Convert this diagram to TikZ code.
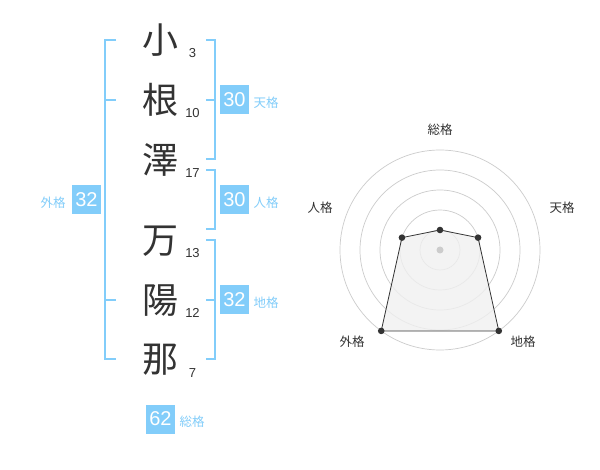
\documentclass[tikz,border=0pt]{standalone}
\usepackage{fontspec}
\setmainfont{Liberation Sans}
\newfontfamily\jpfont{Noto Sans CJK JP}
\usepackage{tikz}

\definecolor{kakublue}{RGB}{130,205,250}
\definecolor{inkgray}{RGB}{51,51,51}
\definecolor{ringgray}{RGB}{204,204,204}
\definecolor{areagray}{RGB}{240,240,240}

\tikzset{
  kanji/.style={font=\jpfont\fontsize{36}{36}\selectfont, text=inkgray, inner sep=0pt},
  strokes/.style={font=\fontsize{13}{13}\selectfont, text=inkgray, inner sep=0pt},
  kakubox/.style={fill=kakublue, text=white, minimum width=29pt, minimum height=29pt,
    inner sep=0pt, font=\fontsize{20}{20}\selectfont},
  kakulabel/.style={font=\jpfont\fontsize{12.5}{12.5}\selectfont, text=kakublue, inner sep=0pt},
  bracket/.style={draw=kakublue, line width=2pt},
  ring/.style={draw=ringgray, line width=0.7pt},
  axislabel/.style={font=\jpfont\fontsize{12.5}{12.5}\selectfont, text=inkgray, inner sep=0pt}
}

\begin{document}
\begin{tikzpicture}[x=1pt, y=-1pt]
        \useasboundingbox[fill=white] (0, 0) rectangle (600, 470);

        % name
        \draw (160, 40) node[kanji] (k1) {小};
        \draw (160, 100) node[kanji] (k2) {根};
        \draw (160, 160) node[kanji] (k3) {澤};
        \draw (160, 241) node[kanji] (k4) {万};
        \draw (160, 301) node[kanji] (k5) {陽};
        \draw (160, 360) node[kanji] (k6) {那};
        \draw (192.5, 53) node[strokes] (s1) {3};
        \draw (192.5, 113) node[strokes] (s2) {10};
        \draw (192.5, 173) node[strokes] (s3) {17};
        \draw (192.5, 253) node[strokes] (s4) {13};
        \draw (192.5, 313) node[strokes] (s5) {12};
        \draw (192.5, 373) node[strokes] (s6) {7};

        % brackets
        \draw[bracket] (116, 40) -- (105, 40) -- (105, 359) -- (116, 359);
        \draw[bracket] (105, 100) -- (116, 100);
        \draw[bracket] (105, 300) -- (116, 300);
        \draw[bracket] (206, 40) -- (215, 40) -- (215, 159) -- (206, 159);
        \draw[bracket] (206, 100) -- (215, 100);
        \draw[bracket] (206, 170) -- (215, 170) -- (215, 229) -- (206, 229);
        \draw[bracket] (206, 240) -- (215, 240) -- (215, 359) -- (206, 359);
        \draw[bracket] (206, 300) -- (215, 300);

        % scores
        \draw (234.5, 100) node[kakubox] (ten) {30};
        \draw (266, 103) node[kakulabel] {天格};
        \draw (234.5, 200) node[kakubox] (jin) {30};
        \draw (266, 203) node[kakulabel] {人格};
        \draw (234.5, 300) node[kakubox] (chi) {32};
        \draw (266, 303) node[kakulabel] {地格};
        \draw (86.5, 200) node[kakubox] (gai) {32};
        \draw (53, 203) node[kakulabel] {外格};
        \draw (160.5, 419) node[kakubox] (sou) {62};
        \draw (192, 422) node[kakulabel] {総格};

        % radar
        \begin{scope}[shift={(440, 250)}]
          \coordinate (c) at (0, 0);
          \foreach \r in {20, 40, 60, 80, 100}
            \draw[ring] (c) circle (\r pt);
          \coordinate (psou) at (-90:20);
          \coordinate (pten) at (-18:40);
          \coordinate (pchi) at (54:100);
          \coordinate (pgai) at (126:100);
          \coordinate (pjin) at (198:40);
          \filldraw[fill=areagray, fill opacity=0.8, draw=inkgray, line width=0.8pt]
            (psou) -- (pten) -- (pchi) -- (pgai) -- (pjin) -- cycle;
          \fill[ringgray] (c) circle (3.5pt);
          \foreach \p in {psou, pten, pchi, pgai, pjin}
            \fill[inkgray] (\p) circle (3.3pt);
        \end{scope}
        \draw (440, 130) node[axislabel] (lsou) {総格};
        \draw (562, 208) node[axislabel] (lten) {天格};
        \draw (320, 208) node[axislabel] (ljin) {人格};
        \draw (352, 342) node[axislabel] (lgai) {外格};
        \draw (523, 342) node[axislabel] (lchi) {地格};
\end{tikzpicture}
\end{document}
